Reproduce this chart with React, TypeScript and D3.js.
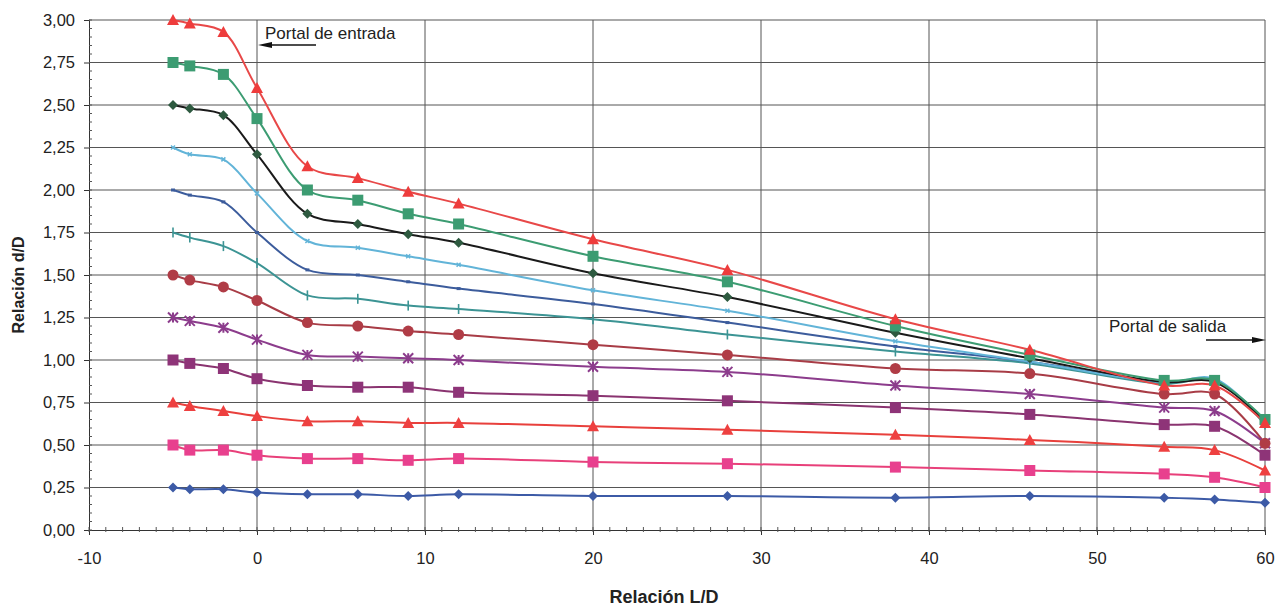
import React, { useEffect, useRef } from "react";
import * as d3 from "d3";

// L/D positions where the readings were taken
const xs = [-5, -4, -2, 0, 3, 6, 9, 12, 20, 28, 38, 46, 54, 57, 60];

const s300 = [3.0, 2.98, 2.93, 2.6, 2.14, 2.07, 1.99, 1.92, 1.71, 1.53, 1.24, 1.06, 0.85, 0.85, 0.63];
const s275 = [2.75, 2.73, 2.68, 2.42, 2.0, 1.94, 1.86, 1.8, 1.61, 1.46, 1.2, 1.03, 0.88, 0.88, 0.65];
const s250 = [2.5, 2.48, 2.44, 2.21, 1.86, 1.8, 1.74, 1.69, 1.51, 1.37, 1.16, 1.01, 0.87, 0.87, 0.64];
const s225 = [2.25, 2.21, 2.18, 1.98, 1.7, 1.66, 1.61, 1.56, 1.41, 1.29, 1.11, 0.99, 0.87, 0.89, 0.63];
const s200 = [2.0, 1.97, 1.93, 1.75, 1.53, 1.5, 1.46, 1.42, 1.33, 1.22, 1.08, 0.99, 0.87, 0.88, 0.64];
const s175 = [1.75, 1.72, 1.67, 1.57, 1.38, 1.36, 1.32, 1.3, 1.24, 1.15, 1.05, 0.98, 0.86, 0.88, 0.62];
const s150 = [1.5, 1.47, 1.43, 1.35, 1.22, 1.2, 1.17, 1.15, 1.09, 1.03, 0.95, 0.92, 0.8, 0.8, 0.51];
const s125 = [1.25, 1.23, 1.19, 1.12, 1.03, 1.02, 1.01, 1.0, 0.96, 0.93, 0.85, 0.8, 0.72, 0.7, 0.51];
const s100 = [1.0, 0.98, 0.95, 0.89, 0.85, 0.84, 0.84, 0.81, 0.79, 0.76, 0.72, 0.68, 0.62, 0.61, 0.44];
const s075 = [0.75, 0.73, 0.7, 0.67, 0.64, 0.64, 0.63, 0.63, 0.61, 0.59, 0.56, 0.53, 0.49, 0.47, 0.35];
const s050 = [0.5, 0.47, 0.47, 0.44, 0.42, 0.42, 0.41, 0.42, 0.4, 0.39, 0.37, 0.35, 0.33, 0.31, 0.25];
const s025 = [0.25, 0.24, 0.24, 0.22, 0.21, 0.21, 0.2, 0.21, 0.2, 0.2, 0.19, 0.2, 0.19, 0.18, 0.16];

const series = [
  { values: s025, line: "#3c5aa6", fill: "#3c5aa6", marker: "diamond" },
  { values: s050, line: "#e8407a", fill: "#e8408e", marker: "square" },
  { values: s075, line: "#e8403c", fill: "#ee4040", marker: "triangle" },
  { values: s100, line: "#8a3470", fill: "#8e3478", marker: "square" },
  { values: s125, line: "#8c3c8c", fill: "#8c3c8c", marker: "cross" },
  { values: s150, line: "#a83c46", fill: "#b03c46", marker: "circle" },
  { values: s175, line: "#3c9494", fill: "#3c9494", marker: "plus" },
  { values: s200, line: "#3c5c9c", fill: "#3c5c9c", marker: "dash" },
  { values: s225, line: "#62b4d8", fill: "#62b4d8", marker: "smallx" },
  { values: s250, line: "#1a1a1a", fill: "#2e5a40", marker: "diamond" },
  { values: s275, line: "#3c9c72", fill: "#3c9c72", marker: "square" },
  { values: s300, line: "#e84848", fill: "#ee3c3c", marker: "triangle" },
];

const yTicks = [0, 0.25, 0.5, 0.75, 1, 1.25, 1.5, 1.75, 2, 2.25, 2.5, 2.75, 3];
const xTicks = [-10, 0, 10, 20, 30, 40, 50, 60];

const W = 1285, H = 607;
const margin = { top: 20, right: 20, bottom: 77, left: 89 };

function drawChart(node: SVGSVGElement) {
  const svg = d3.select(node);
  svg.selectAll("*").remove();
  const font = "'Liberation Sans', Arial, sans-serif";

  const x = d3.scaleLinear().domain([-10, 60]).range([margin.left, W - margin.right]);
  const y = d3.scaleLinear().domain([0, 3]).range([H - margin.bottom, margin.top]);

  const g = svg.append("g");

  // grid
  g.selectAll(".hgrid").data(yTicks.filter(d => d > 0)).enter().append("line")
    .attr("x1", x(-10)).attr("x2", x(60))
    .attr("y1", d => y(d)).attr("y2", d => y(d))
    .attr("stroke", "#555").attr("stroke-width", 1);
  g.selectAll(".vgrid").data(xTicks.filter(d => d > -10)).enter().append("line")
    .attr("x1", d => x(d)).attr("x2", d => x(d))
    .attr("y1", y(0)).attr("y2", y(3))
    .attr("stroke", "#555").attr("stroke-width", 1);

  // axes
  const yAxis = d3.axisLeft(y).tickValues(yTicks)
    .tickFormat(d => d3.format(".2f")(d as number).replace(".", ","))
    .tickSize(5).tickPadding(9);
  const ya = g.append("g").attr("transform", `translate(${x(-10)},0)`).call(yAxis);
  ya.select(".domain").attr("stroke", "#333");
  ya.selectAll(".tick line").attr("stroke", "#333");
  ya.selectAll("text").attr("font-family", font).attr("font-size", 16.5).attr("fill", "#222");

  const xAxis = d3.axisBottom(x).tickValues(xTicks)
    .tickFormat(d => String(d))
    .tickSize(5).tickPadding(17);
  const xa = g.append("g").attr("transform", `translate(0,${y(0)})`).call(xAxis);
  xa.select(".domain").attr("stroke", "#333");
  xa.selectAll(".tick line").attr("stroke", "#333");
  xa.selectAll("text").attr("font-family", font).attr("font-size", 16.5).attr("fill", "#222");

  // minor ticks
  g.selectAll(".ymin").data(d3.range(0, 3.0001, 0.05)).enter().append("line")
    .attr("x1", x(-10)).attr("x2", x(-10) + 3)
    .attr("y1", d => y(d)).attr("y2", d => y(d))
    .attr("stroke", "#555");
  g.selectAll(".xmin").data(d3.range(-10, 60.001, 1)).enter().append("line")
    .attr("x1", d => x(d)).attr("x2", d => x(d))
    .attr("y1", y(0) - 3).attr("y2", y(0) + 2)
    .attr("stroke", "#555");

  // axis titles
  svg.append("text")
    .attr("x", 664).attr("y", 603)
    .attr("text-anchor", "middle").attr("font-family", font)
    .attr("font-size", 18).attr("font-weight", "bold").attr("fill", "#222")
    .text("Relación L/D");
  svg.append("text")
    .attr("transform", `translate(24,285) rotate(-90)`)
    .attr("text-anchor", "middle").attr("font-family", font)
    .attr("font-size", 16).attr("font-weight", "bold").attr("fill", "#222")
    .text("Relación d/D");

  const line = d3.line<number>()
    .x((d, i) => x(xs[i]))
    .y(d => y(d))
    .curve(d3.curveCatmullRom.alpha(0.5));

  series.forEach(s => {
    g.append("path").datum(s.values)
      .attr("d", line)
      .attr("fill", "none")
      .attr("stroke", s.line)
      .attr("stroke-width", 2);
  });

  series.forEach(s => {
    const mg = g.append("g");
    s.values.forEach((v, i) => {
      const cx = x(xs[i]), cy = y(v);
      const m = mg.append("g").attr("transform", `translate(${cx},${cy})`);
      if (s.marker === "triangle") {
        m.append("path").attr("d", "M0,-6L6,5L-6,5Z").attr("fill", s.fill);
      } else if (s.marker === "square") {
        m.append("rect").attr("x", -5.5).attr("y", -5.5).attr("width", 11).attr("height", 11).attr("fill", s.fill);
      } else if (s.marker === "diamond") {
        m.append("path").attr("d", "M0,-5L5,0L0,5L-5,0Z").attr("fill", s.fill);
      } else if (s.marker === "circle") {
        m.append("circle").attr("r", 5.5).attr("fill", s.fill);
      } else if (s.marker === "cross") {
        m.append("path").attr("d", "M-5,-5L5,5M-5,5L5,-5M0,-5L0,5")
          .attr("stroke", s.fill).attr("stroke-width", 2);
      } else if (s.marker === "plus") {
        m.append("path").attr("d", "M0,-5L0,5").attr("stroke", s.fill).attr("stroke-width", 1.6);
      } else if (s.marker === "dash") {
        m.append("path").attr("d", "M-2,0L2,0").attr("stroke", s.fill).attr("stroke-width", 3);
      } else if (s.marker === "smallx") {
        m.append("path").attr("d", "M-2,-2L2,2M-2,2L2,-2").attr("stroke", s.fill).attr("stroke-width", 1.5);
      }
    });
  });

  // annotations
  svg.append("text").attr("x", 265).attr("y", 39)
    .attr("font-family", font).attr("font-size", 17).attr("fill", "#222")
    .text("Portal de entrada");
  svg.append("line").attr("x1", 316).attr("x2", 268).attr("y1", 45).attr("y2", 45)
    .attr("stroke", "#111").attr("stroke-width", 1.5);
  svg.append("path").attr("d", "M258,45L272,42L272,48Z").attr("fill", "#111");

  svg.append("text").attr("x", 1109).attr("y", 332)
    .attr("font-family", font).attr("font-size", 17).attr("fill", "#222")
    .text("Portal de salida");
  svg.append("line").attr("x1", 1206).attr("x2", 1254).attr("y1", 340).attr("y2", 340)
    .attr("stroke", "#111").attr("stroke-width", 1.5);
  svg.append("path").attr("d", "M1266,340L1252,337L1252,343Z").attr("fill", "#111");
}

export default function App() {
  const ref = useRef<SVGSVGElement>(null);
  useEffect(() => {
    if (ref.current) drawChart(ref.current);
  }, []);
  return (
    <svg ref={ref} width={W} height={H}
      style={{ position: "absolute", left: 0, top: 0, background: "#fff" }} />
  );
}
